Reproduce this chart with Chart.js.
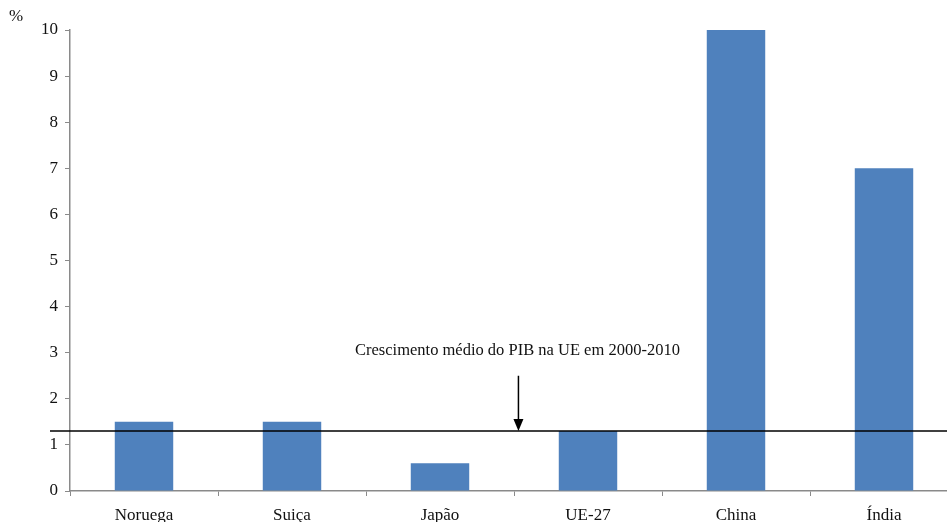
<!DOCTYPE html>
<html>
<head>
<meta charset="utf-8">
<script src="https://cdn.jsdelivr.net/npm/chart.js@4/dist/chart.umd.min.js"></script>
<style>
  html, body { margin: 0; padding: 0; background: #fff; overflow: hidden; }
  #wrap { position: relative; width: 960px; height: 522px; }
</style>
</head>
<body>
<div id="wrap"><canvas id="c" width="960" height="522"></canvas></div>
<script>
// Crescimento real do PIB (%)
const categories = ['Noruega', 'Suiça', 'Japão', 'UE-27', 'China', 'Índia'];
const growth = [1.5, 1.5, 0.6, 1.3, 10.0, 7.0];
const yTicks = [0, 1, 2, 3, 4, 5, 6, 7, 8, 9, 10];
const euAverage = 1.3;
const euLabel = 'Crescimento médio do PIB na UE em 2000-2010';
const unitLabel = '%';

const serif = '"Liberation Serif", "Times New Roman", serif';
const axisGray = '#8a8a8a';

// Reference line, arrow and caption for the EU average
const euLinePlugin = {
  id: 'euLine',
  afterDatasetsDraw(chart) {
    const { ctx, scales: { x, y } } = chart;
    const yLine = y.getPixelForValue(euAverage);
    const xArrow = x.getPixelForValue(2.53);
    ctx.save();
    ctx.strokeStyle = '#000';
    ctx.lineWidth = 1.5;
    ctx.beginPath();
    ctx.moveTo(50, yLine);
    ctx.lineTo(chart.width, yLine);
    ctx.stroke();

    // arrow
    const yTop = y.getPixelForValue(2.5);
    ctx.lineWidth = 1.5;
    ctx.beginPath();
    ctx.moveTo(xArrow, yTop);
    ctx.lineTo(xArrow, yLine - 8);
    ctx.stroke();
    ctx.fillStyle = '#000';
    ctx.beginPath();
    ctx.moveTo(xArrow - 5, yLine - 12);
    ctx.lineTo(xArrow + 5, yLine - 12);
    ctx.lineTo(xArrow, yLine);
    ctx.closePath();
    ctx.fill();

    ctx.font = '16.5px ' + serif;
    ctx.fillStyle = '#111';
    ctx.textAlign = 'center';
    ctx.textBaseline = 'middle';
    ctx.fillText(euLabel, xArrow - 1, y.getPixelForValue(3.04));

    // unit label
    ctx.font = '17px ' + serif;
    ctx.textAlign = 'left';
    ctx.fillText(unitLabel, 9, 17);
    ctx.restore();
  }
};

new Chart(document.getElementById('c'), {
  type: 'bar',
  data: {
    labels: categories,
    datasets: [{
      data: growth,
      backgroundColor: '#4F81BD',
      borderWidth: 0,
      categoryPercentage: 1,
      barPercentage: 0.395
    }]
  },
  options: {
    responsive: false,
    animation: false,
    layout: { padding: { top: 30, right: 2, left: 0, bottom: 0 } },
    plugins: { legend: { display: false }, tooltip: { enabled: false } },
    scales: {
      x: {
        grid: { display: true, drawOnChartArea: false, drawTicks: true, tickLength: 5, color: axisGray, offset: true },
        border: { display: true, color: axisGray, width: 1.5 },
        ticks: { color: '#111', font: { family: serif, size: 17 }, padding: 9, maxRotation: 0 },
        afterFit(s) { s.height = 31; }
      },
      y: {
        min: 0, max: 10,
        afterBuildTicks(s) { s.ticks = yTicks.map(v => ({ value: v })); },
        grid: { display: true, drawOnChartArea: false, drawTicks: true, tickLength: 5, color: axisGray },
        border: { display: true, color: axisGray, width: 1.5 },
        ticks: { color: '#111', font: { family: serif, size: 17 }, padding: 7 },
        afterFit(s) { s.width = 70; }
      }
    }
  },
  plugins: [euLinePlugin]
});
</script>
</body>
</html>
